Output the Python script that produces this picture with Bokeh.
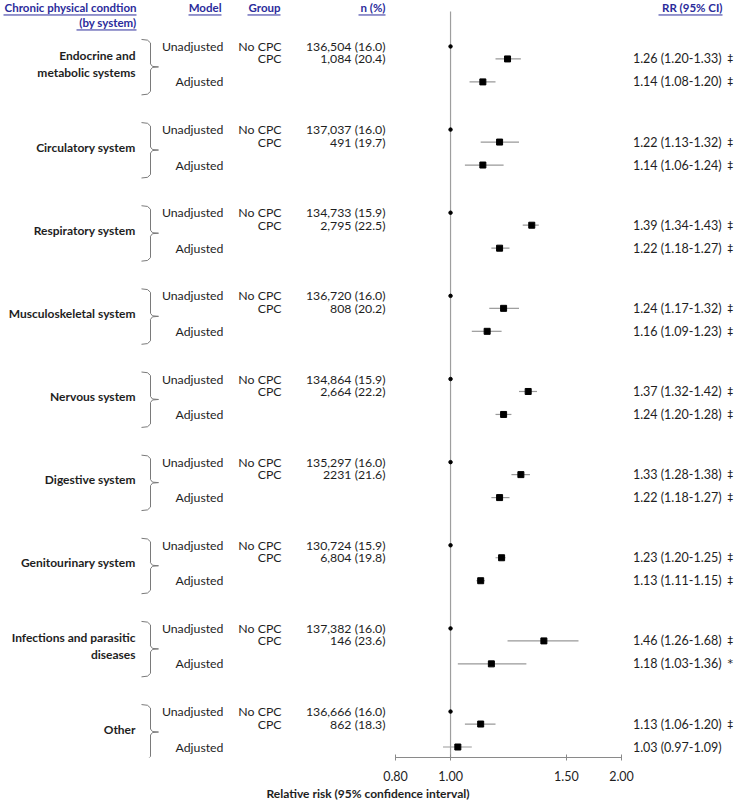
from bokeh.plotting import figure
from bokeh.models import (ColumnDataSource, Range1d, LogScale, LogAxis, FixedTicker,
                          NumeralTickFormatter)
from bokeh.core.properties import value
from bokeh.embed import file_html
from bokeh.resources import INLINE
import math

# ---------------- data ----------------
conditions = ["Endocrine and\nmetabolic systems", "Circulatory system", "Respiratory system",
              "Musculoskeletal system", "Nervous system", "Digestive system",
              "Genitourinary system", "Infections and parasitic\ndiseases", "Other"]
n_nocpc = ["136,504 (16.0)", "137,037 (16.0)", "134,733 (15.9)", "136,720 (16.0)",
           "134,864 (15.9)", "135,297 (16.0)", "130,724 (15.9)", "137,382 (16.0)",
           "136,666 (16.0)"]
n_cpc = ["1,084 (20.4)", "491 (19.7)", "2,795 (22.5)", "808 (20.2)", "2,664 (22.2)",
         "2231 (21.6)", "6,804 (19.8)", "146 (23.6)", "862 (18.3)"]
rr_ref = [1.0] * 9
rr_unadj = [1.26, 1.22, 1.39, 1.24, 1.37, 1.33, 1.23, 1.46, 1.13]
lo_unadj = [1.20, 1.13, 1.34, 1.17, 1.32, 1.28, 1.20, 1.26, 1.06]
hi_unadj = [1.33, 1.32, 1.43, 1.32, 1.42, 1.38, 1.25, 1.68, 1.20]
sig_unadj = ["‡", "‡", "‡", "‡", "‡", "‡", "‡", "‡", "‡"]
rr_adj = [1.14, 1.14, 1.22, 1.16, 1.24, 1.22, 1.13, 1.18, 1.03]
lo_adj = [1.08, 1.06, 1.18, 1.09, 1.20, 1.18, 1.11, 1.03, 0.97]
hi_adj = [1.20, 1.24, 1.27, 1.23, 1.28, 1.27, 1.15, 1.36, 1.09]
sig_adj = ["‡", "‡", "‡", "‡", "‡", "‡", "‡", "*", ""]
headers = ["Chronic physical condtion", "(by system)", "Model", "Group", "n (%)", "RR (95% CI)"]
tick_values = [0.8, 1.0, 1.6, 2.0]          # positions as drawn in the reference
tick_overrides = {1.6: "1.50"}              # the reference labels this tick "1.50"
axis_title = "Relative risk (95% confidence interval)"

# ---------------- layout (reference pixel units) ----------------
FONT = value("Lato")
TXT = "#1e1e1e"
BLUE = "#2B2B9B"
ROW0, GSTEP, CPC_DY, ADJ_DY, NAME_DY = 46.0, 83.25, 12.5, 35.5, 17.5
X_NAME, X_MODEL, X_GROUP, X_N, X_RR, X_SIG = 135, 223, 281, 385, 721, 727
AX_L, AX_R = 395, 621   # where 0.8 and 2.0 fall
W_REF, Y_BOT = 735, 758

ppu = (AX_R - AX_L) / (math.log(tick_values[-1]) - math.log(tick_values[0]))
lo_lim = tick_values[0] * math.exp(-AX_L / ppu)
hi_lim = tick_values[-1] * math.exp((W_REF - AX_R) / ppu)

ng = len(conditions)
base = [ROW0 + GSTEP * i for i in range(ng)]
y_nocpc = base
y_cpc = [b + CPC_DY for b in base]
y_adj = [b + ADJ_DY for b in base]

p = figure(width=735, height=803, x_range=Range1d(0, W_REF), y_range=Range1d(Y_BOT, 0),
           x_axis_location=None, y_axis_location=None, output_backend="svg",
           toolbar_location=None, min_border_left=0, min_border_right=0, min_border_top=0,
           min_border_bottom=45, outline_line_color=None)
p.grid.visible = False
p.extra_x_ranges = {"rr": Range1d(lo_lim, hi_lim)}
p.extra_x_scales = {"rr": LogScale()}


def txt(x, y, t, align="right", bold=False, color=TXT, size="12px", lh=None, font=FONT):
    src = ColumnDataSource(dict(x=x, y=y, t=t))
    kw = dict(text_line_height=lh) if lh else {}
    p.text(x="x", y="y", text="t", source=src, text_font=font, text_font_size=size,
           text_align=align, text_baseline="middle", text_color=color,
           text_font_style="bold" if bold else "normal", **kw)


# headers
hx = [X_NAME + 1, X_NAME + 1, X_MODEL - 2, X_GROUP - 1, X_N, X_RR + 1]
hy = [7, 22, 7, 7, 7, 7]
txt(hx, hy, headers, bold=True, color=BLUE, size="11.5px")
uw = [133, 60, 33, 33, 27, 64]
p.segment(x0=[x - w for x, w in zip(hx, uw)], x1=hx, y0=[y + 7.5 for y in hy],
          y1=[y + 7.5 for y in hy], line_color=BLUE, line_width=1)

# left columns
txt([X_NAME] * ng, [b + NAME_DY for b in base], conditions, bold=True, lh=1.17)
txt([X_MODEL] * ng, y_nocpc, ["Unadjusted"] * ng, size="12.3px")
txt([X_MODEL] * ng, y_adj, ["Adjusted"] * ng, size="12.3px")
txt([X_GROUP] * ng, y_nocpc, ["No CPC"] * ng, size="12.3px")
txt([X_GROUP] * ng, y_cpc, ["CPC"] * ng, size="12.3px")
txt([X_N] * ng, y_nocpc, n_nocpc, size="12.3px")
txt([X_N] * ng, y_cpc, n_cpc, size="12.3px")

# braces
bx = [141, 147, 150, 150, 152, 158, 152, 150, 150, 147, 141]
bdy = [-7, -6.3, -3.5, 17.5, 20, 20.5, 21, 23.5, 45, 47.8, 48.5]
p.multi_line(xs=[bx] * ng, ys=[[b + d for d in bdy] for b in base],
             line_color="#7a7a7a", line_width=1)

# reference line
p.segment(x0=[rr_ref[0]], x1=[rr_ref[0]], y0=[11], y1=[Y_BOT], x_range_name="rr",
          line_color="#9e9e9e", line_width=1.2)

# CIs & points
p.segment(x0=lo_unadj, x1=hi_unadj, y0=y_cpc, y1=y_cpc, x_range_name="rr",
          line_color="#999999", line_width=1.2)
p.segment(x0=lo_adj, x1=hi_adj, y0=y_adj, y1=y_adj, x_range_name="rr",
          line_color="#999999", line_width=1.2)
p.scatter(x=rr_ref, y=y_nocpc, x_range_name="rr", marker="circle", size=3.5,
          color="black")
p.scatter(x=rr_unadj, y=y_cpc, x_range_name="rr", marker="square", size=6,
          color="black")
p.scatter(x=rr_adj, y=y_adj, x_range_name="rr", marker="square", size=6,
          color="black")

# RR text
fmt = lambda r, l, h: f"{r:.2f} ({l:.2f}-{h:.2f})"
txt([X_RR] * ng, y_cpc, [fmt(*v) for v in zip(rr_unadj, lo_unadj, hi_unadj)], size="12.5px")
txt([X_RR] * ng, y_adj, [fmt(*v) for v in zip(rr_adj, lo_adj, hi_adj)], size="12.5px")
txt([X_SIG] * ng, y_cpc, sig_unadj, align="left", font=value("DejaVu Sans"), size="11px")
txt([X_SIG] * ng, y_adj, sig_adj, align="left", font=value("DejaVu Sans"), size="11px")

# axis
ax = LogAxis(x_range_name="rr", bounds=(tick_values[0], tick_values[-1]),
             ticker=FixedTicker(ticks=tick_values, minor_ticks=[]),
             formatter=NumeralTickFormatter(format="0.00"),
             major_label_overrides=tick_overrides, axis_label=axis_title)
ax.axis_line_color = "#8a8a8a"
ax.major_tick_line_color = "#8a8a8a"
ax.minor_tick_line_color = None
ax.major_tick_in = 3
ax.major_tick_out = 3
ax.major_label_standoff = 10
ax.major_label_text_font = "Lato"
ax.major_label_text_font_size = "12.5px"
ax.major_label_text_color = TXT
ax.axis_label_standoff = 2
ax.axis_label_text_font = "Lato"
ax.axis_label_text_font_size = "12px"
ax.axis_label_text_font_style = "bold"
ax.axis_label_text_color = TXT
p.add_layout(ax, "below")

open("out.html", "w").write(file_html(p, INLINE))
